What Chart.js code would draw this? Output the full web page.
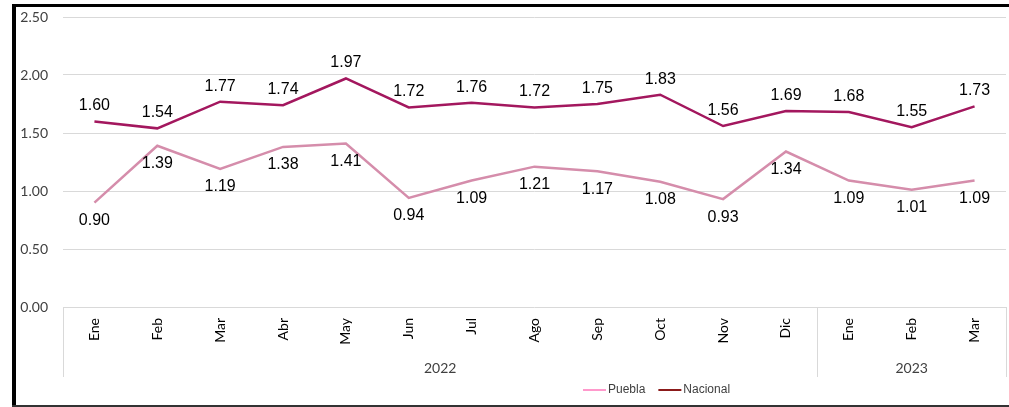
<!DOCTYPE html>
<html>
<head>
<meta charset="utf-8">
<script src="https://cdn.jsdelivr.net/npm/chart.js@4/dist/chart.umd.min.js"></script>
<style>
  html, body { margin: 0; padding: 0; background: #fff; }
  #wrap { position: relative; width: 1009px; height: 407px; overflow: hidden; }
  canvas { position: absolute; left: 0; top: 0; }
  .b { position: absolute; }
</style>
</head>
<body>
<div id="wrap">
  <canvas id="c" width="1009" height="407"></canvas>
  <div class="b" style="left:12px;top:4px;width:4px;height:403px;background:#000;"></div>
  <div class="b" style="left:12px;top:4px;width:997px;height:3px;background:#000;"></div>
  <div class="b" style="left:12px;top:405px;width:997px;height:2px;background:#333;"></div>
</div>
<script>
const months = ['Ene','Feb','Mar','Abr','May','Jun','Jul','Ago','Sep','Oct','Nov','Dic','Ene','Feb','Mar'];
const years = ['2022','2023'];
const monthsPerYear = [12, 3];
const puebla = [0.90,1.39,1.19,1.38,1.41,0.94,1.09,1.21,1.17,1.08,0.93,1.34,1.09,1.01,1.09];
const nacional = [1.60,1.54,1.77,1.74,1.97,1.72,1.76,1.72,1.75,1.83,1.56,1.69,1.68,1.55,1.73];
const yTicks = [0, 0.5, 1.0, 1.5, 2.0, 2.5];

const labelFont = '16px "Liberation Sans", Arial, sans-serif';

const dataLabels = {
  id: 'dataLabels',
  afterDatasetsDraw(chart) {
    const ctx = chart.ctx;
    ctx.save();
    ctx.font = labelFont;
    ctx.fillStyle = '#000';
    ctx.textAlign = 'center';
    ctx.textBaseline = 'middle';
    chart.data.datasets.forEach((ds, i) => {
      const meta = chart.getDatasetMeta(i);
      meta.data.forEach((pt, j) => {
        ctx.fillText(ds.data[j].toFixed(2), pt.x, pt.y + ds.labelOffset);
      });
    });
    ctx.restore();
  }
};

const groupAxis = {
  id: 'groupAxis',
  afterDraw(chart) {
    const ctx = chart.ctx;
    const xs = chart.scales.x;
    const area = chart.chartArea;
    const step = xs.getPixelForValue(1) - xs.getPixelForValue(0);
    ctx.save();
    ctx.strokeStyle = '#D9D9D9';
    ctx.lineWidth = 1;
    let idx = 0;
    const bounds = [xs.getPixelForValue(0) - step / 2];
    monthsPerYear.forEach(n => { idx += n; bounds.push(xs.getPixelForValue(idx - 1) + step / 2); });
    bounds.forEach(b => {
      const x = Math.round(b) + 0.5;
      ctx.beginPath();
      ctx.moveTo(x, area.bottom);
      ctx.lineTo(x, area.bottom + 70);
      ctx.stroke();
    });
    ctx.font = '14px Lato, "Open Sans", sans-serif';
    ctx.fillStyle = '#404040';
    ctx.textAlign = 'center';
    ctx.textBaseline = 'middle';
    years.forEach((y, i) => {
      ctx.fillText(y, (bounds[i] + bounds[i + 1]) / 2, area.bottom + 61);
    });
    // legend
    ctx.font = '12px "Liberation Sans", Arial, sans-serif';
    ctx.textAlign = 'left';
    let lx = 583;
    const ly = 390;
    chart.data.datasets.forEach(ds => {
      ctx.strokeStyle = ds.legendColor;
      ctx.lineWidth = 2;
      ctx.beginPath();
      ctx.moveTo(lx, ly);
      ctx.lineTo(lx + 23, ly);
      ctx.stroke();
      ctx.fillStyle = '#404040';
      ctx.fillText(ds.label, lx + 25, ly);
      lx += 25 + ctx.measureText(ds.label).width + 13;
    });
    ctx.restore();
  }
};

new Chart(document.getElementById('c'), {
  type: 'line',
  data: {
    labels: months,
    datasets: [
      { label: 'Puebla', data: puebla, borderColor: '#D58DAB', legendColor: '#FF99CC', borderWidth: 2.5, pointRadius: 0, tension: 0, labelOffset: 18 },
      { label: 'Nacional', data: nacional, borderColor: '#A3175E', legendColor: '#8B1A1A', borderWidth: 2.5, pointRadius: 0, tension: 0, labelOffset: -15.5 }
    ]
  },
  options: {
    responsive: false,
    animation: false,
    devicePixelRatio: 1,
    layout: { padding: { left: 0, top: 17, right: 3, bottom: 0 } },
    plugins: { legend: { display: false }, tooltip: { enabled: false } },
    scales: {
      x: {
        offset: true,
        grid: { display: false, drawTicks: false, offset: true },
        border: { display: false },
        ticks: {
          autoSkip: false, minRotation: 90, maxRotation: 90, padding: 11,
          font: { family: 'Lato, "Open Sans", sans-serif', size: 14 }, color: '#000'
        },
        afterFit(s) { s.height = 100; }
      },
      y: {
        min: 0, max: 2.5,
        afterBuildTicks(s) { s.ticks = yTicks.map(v => ({ value: v })); },
        grid: { color: '#D9D9D9', drawTicks: false, lineWidth: 1 },
        border: { display: false },
        ticks: {
          padding: 15,
          callback: v => Number(v).toFixed(2),
          font: { family: 'Lato, "Open Sans", sans-serif', size: 14 }, color: '#404040'
        },
        afterFit(s) { s.width = 63; s.paddingTop = 0; s.paddingBottom = 0; }
      }
    }
  },
  plugins: [dataLabels, groupAxis]
});
</script>
</body>
</html>
